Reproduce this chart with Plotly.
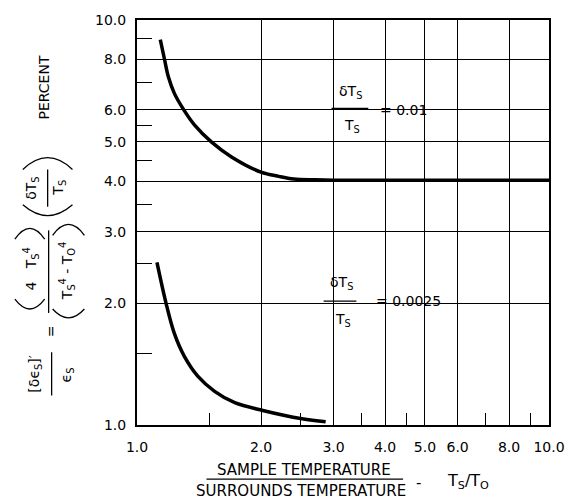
import plotly.graph_objects as go

# ---- data ----
ratio_hi = [1.139, 1.166, 1.192, 1.233, 1.299, 1.38, 1.515, 1.696, 2.0, 2.21, 2.4, 2.7, 3.0, 4.0, 6.0, 10.0]
error_hi = [8.94, 8.0, 7.23, 6.58, 6.0, 5.5, 5.0, 4.59, 4.21, 4.11, 4.05, 4.03, 4.02, 4.02, 4.02, 4.02]
ratio_lo = [1.118, 1.176, 1.232, 1.304, 1.406, 1.543, 1.727, 2.02, 2.515, 2.87]
error_lo = [2.52, 2.0, 1.683, 1.475, 1.318, 1.211, 1.135, 1.086, 1.036, 1.018]

x_ticks = [1, 2, 3, 4, 5, 6, 8, 10]
x_labels = ["1.0", "2.0", "3.0", "4.0", "5.0", "6.0", "8.0", "10.0"]
y_ticks = [1, 2, 3, 4, 5, 6, 8, 10]
y_labels = ["1.0", "2.0", "3.0", "4.0", "5.0", "6.0", "8.0", "10.0"]
x_minor = [1.5, 2.5, 3.5, 4.5, 7, 9]
y_minor = [1.5, 2.5, 3.5, 4.5, 5.5, 7, 9]

label_hi = "0.01"
label_lo = "0.0025"

# ---- layout geometry ----
W, H = 577, 499
ML, MR, MT, MB = 137, 25, 13, 74
PW, PH = W - ML - MR, H - MT - MB
FONT = "DejaVu Sans"


def px(x, y):
    return (x - ML) / PW, (H - MB - y) / PH


fig = go.Figure()
for xs, ys in ((ratio_hi, error_hi), (ratio_lo, error_lo)):
    fig.add_trace(go.Scatter(x=xs, y=ys, mode="lines",
                             line=dict(color="black", width=3.5, shape="spline", smoothing=1.0),
                             showlegend=False, hoverinfo="skip"))

annotations = []
shapes = []


def text(x, y, t, size=14, angle=0):
    X, Y = px(x, y)
    annotations.append(dict(x=X, y=Y, xref="paper", yref="paper", text=t, showarrow=False,
                            textangle=angle, xanchor="center", yanchor="middle",
                            font=dict(family=FONT, size=size, color="black")))


def line(x0, y0, x1, y1, w=1.3):
    X0, Y0 = px(x0, y0)
    X1, Y1 = px(x1, y1)
    shapes.append(dict(type="line", xref="paper", yref="paper", x0=X0, y0=Y0, x1=X1, y1=Y1,
                       line=dict(color="black", width=w), layer="above"))


def white_box(x0, y0, x1, y1):
    X0, Y0 = px(x0, y0)
    X1, Y1 = px(x1, y1)
    shapes.append(dict(type="rect", xref="paper", yref="paper", x0=X0, y0=Y0, x1=X1, y1=Y1,
                       fillcolor="white", line=dict(width=0), layer="between"))


def arc(x0, x1, yend, ypeak):
    xm = (x0 + x1) / 2
    cy = 2 * ypeak - yend
    a = px(x0, yend)
    c = px(xm, cy)
    b = px(x1, yend)
    shapes.append(dict(type="path", xref="paper", yref="paper",
                       path=f"M {a[0]},{a[1]} Q {c[0]},{c[1]} {b[0]},{b[1]}",
                       line=dict(color="black", width=1.3), layer="above"))


# curve labels
white_box(325, 63, 431, 137)
text(352, 86, "δT<sub>S</sub>")
line(333, 103, 370, 103)
text(354, 121, "T<sub>S</sub>")
text(405, 105, "= " + label_hi)

white_box(313, 260, 450, 332)
text(343, 281, "δT<sub>S</sub>")
line(325, 299, 358, 299)
text(345, 318, "T<sub>S</sub>")
text(410, 299, "= " + label_lo)

# x-axis title
text(305, 471, "SAMPLE TEMPERATURE", size=15)
line(207, 480, 405, 480, w=1.2)
text(302, 492, "SURROUNDS TEMPERATURE", size=15)
text(421, 484, "-", size=15)
text(470, 482, "T<sub>S</sub>/T<sub>O</sub>", size=16)

# y-axis title (rotated)
text(43, 82, "PERCENT", size=14, angle=-90)
# (dT/T)
text(31, 184, "δT<sub>S</sub>", size=14, angle=-90)
line(47, 165, 47, 203)
text(59, 184, "T<sub>S</sub>", size=14, angle=-90)
arc(22, 72, 165, 153)
arc(22, 72, 201, 212)
# 4 T^4 / (T^4 - T0^4)
text(30, 266, "4\u00a0\u00a0\u00a0T<sub>S</sub><sup>4</sup>", size=14, angle=-90)
line(48, 227, 48, 311)
text(66, 269, "T<sub>S</sub><sup>4</sup> - T<sub>O</sub><sup>4</sup>", size=14, angle=-90)
arc(14, 44, 236, 225)
arc(14, 44, 297, 307)
arc(52, 84, 232, 221)
arc(52, 84, 307, 316)
# =
text(50, 330, "=", size=14, angle=-90)
# [d eps]' / eps
text(34, 373, "[δϵ<sub>S</sub>]′", size=14, angle=-90)
line(51, 351, 51, 395)
text(66, 374, "ϵ<sub>S</sub>", size=14, angle=-90)

axis_common = dict(type="log", range=[0, 1], tickmode="array", showgrid=True,
                   gridcolor="black", gridwidth=1, showline=True, linecolor="black",
                   linewidth=2, mirror=True, ticks="", zeroline=False,
                   tickfont=dict(family=FONT, size=14, color="black"))

fig.update_layout(
    width=W, height=H, margin=dict(l=ML, r=MR, t=MT, b=MB),
    paper_bgcolor="white", plot_bgcolor="white",
    xaxis=dict(**axis_common, tickvals=x_ticks, ticktext=x_labels, ticklabelstandoff=8,
               minor=dict(tickmode="array", tickvals=x_minor, ticks="inside", ticklen=12,
                          tickwidth=1, tickcolor="black", showgrid=False)),
    yaxis=dict(**axis_common, tickvals=y_ticks, ticktext=y_labels, ticklabelstandoff=6,
               minor=dict(tickmode="array", tickvals=y_minor, ticks="inside", ticklen=15,
                          tickwidth=1, tickcolor="black", showgrid=False)),
    annotations=annotations, shapes=shapes,
)

fig.write_html("out.html")
